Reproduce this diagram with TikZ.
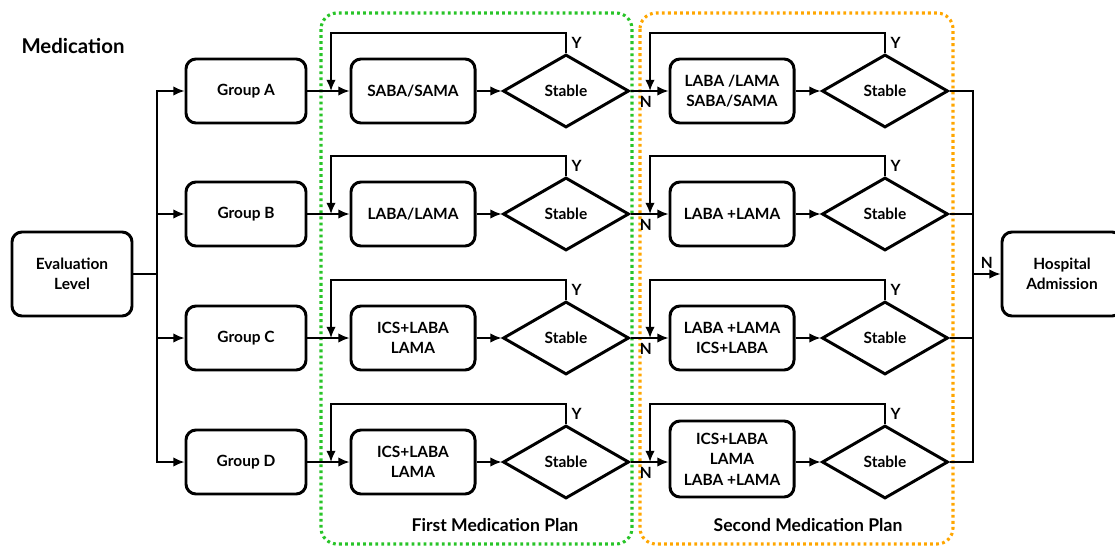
\documentclass[tikz,border=0pt]{standalone}
\usepackage{fontspec}
\setmainfont{Lato}
\usepackage{xcolor}
\usepackage{tikz}
\usetikzlibrary{shapes.geometric}
\usetikzlibrary{calc}
\usetikzlibrary{arrows.meta}

\definecolor{plangreen}{RGB}{40,196,40}
\definecolor{planorange}{RGB}{255,166,0}

\begin{document}
\begin{tikzpicture}[>={Latex[length=2.8mm,width=2.4mm]}, x=0.025cm, y=-0.025cm,
		every node/.style={font=\bfseries\fontsize{11}{14.5}\selectfont},
		box/.style={rectangle, rounded corners=2.5mm, draw=black, line width=2.1pt, minimum width=30mm, minimum height=16mm, align=center, inner sep=1mm},
		stable/.style={diamond, draw=black, line width=2.1pt, minimum width=31.5mm, minimum height=18.25mm, inner sep=0pt},
		link/.style={line width=1.4pt},
		plan/.style={rounded corners=4mm, line width=2.2pt, dash pattern=on 2pt off 2.3pt}]
		\useasboundingbox (0,0) rectangle (1115,546);

		%frames
		\draw [plan, draw=plangreen] (321,13) rectangle (632,544);
		\draw [plan, draw=planorange] (640,13) rectangle (953,544);

		%elements
		\node at (73,46) (title) [font=\bfseries\fontsize{14.5}{17}\selectfont] {Medication};
		\node at (72,274) (eval) [box, minimum height=21mm] {Evaluation\\Level};

		\node at (246,91) (grpA) [box] {Group A};
		\node at (246,214) (grpB) [box] {Group B};
		\node at (246,338) (grpC) [box] {Group C};
		\node at (246,462) (grpD) [box] {Group D};

		\node at (413,91) (firstA) [box, minimum width=31mm] {SABA/SAMA};
		\node at (413,214) (firstB) [box, minimum width=31mm] {LABA/LAMA};
		\node at (413,338) (firstC) [box, minimum width=31mm] {ICS+LABA\\LAMA};
		\node at (413,462) (firstD) [box, minimum width=31mm] {ICS+LABA\\LAMA};

		\node at (566,91) (stabA1) [stable] {Stable};
		\node at (566,214) (stabB1) [stable] {Stable};
		\node at (566,338) (stabC1) [stable] {Stable};
		\node at (566,462) (stabD1) [stable] {Stable};

		\node at (732,91) (secA) [box, minimum width=31mm] {LABA /LAMA\\SABA/SAMA};
		\node at (732,214) (secB) [box, minimum width=31mm] {LABA +LAMA};
		\node at (732,338) (secC) [box, minimum width=31mm] {LABA +LAMA\\ICS+LABA};
		\node at (732,459) (secD) [box, minimum width=31mm, minimum height=19mm] {ICS+LABA\\LAMA\\LABA +LAMA};

		\node at (885,91) (stabA2) [stable] {Stable};
		\node at (885,214) (stabB2) [stable] {Stable};
		\node at (885,338) (stabC2) [stable] {Stable};
		\node at (885,462) (stabD2) [stable] {Stable};

		\node at (1062,274) (hosp) [box, minimum height=21mm] {Hospital\\Admission};

		\node at (495,525) (plan1) [font=\bfseries\fontsize{12.5}{15}\selectfont] {First Medication Plan};
		\node at (808,525) (plan2) [font=\bfseries\fontsize{12.5}{15}\selectfont] {Second Medication Plan};

		%helpers
		\coordinate (split) at (157,274);
		\coordinate (join) at (973,274);
		\coordinate (loopA1) at (331,33);
		\coordinate (loopB1) at (331,156);
		\coordinate (loopC1) at (331,280);
		\coordinate (loopD1) at (331,404);
		\coordinate (loopA2) at (650,33);
		\coordinate (loopB2) at (650,156);
		\coordinate (loopC2) at (650,280);
		\coordinate (loopD2) at (650,404);

		%evaluation to groups
		\draw [link] (eval.east) -- (split);
		\draw [link,->] (split) |- (grpA.west);
		\draw [link,->] (split) |- (grpB.west);
		\draw [link,->] (split) |- (grpC.west);
		\draw [link,->] (split) |- (grpD.west);

		%row A
		\draw [link,->] (grpA.east) -- (firstA.west);
		\draw [link,->] (firstA.east) -- (stabA1.west);
		\draw [link,->] (stabA1.north) |- (loopA1) node [pos=0.25, right] {Y} -- (loopA1 |- firstA.west);
		\draw [link,->] (stabA1.east) -- (secA.west) node [pos=0.4, below] {N};
		\draw [link,->] (secA.east) -- (stabA2.west);
		\draw [link,->] (stabA2.north) |- (loopA2) node [pos=0.25, right] {Y} -- (loopA2 |- secA.west);
		\draw [link] (stabA2.east) -| (join);

		%row B
		\draw [link,->] (grpB.east) -- (firstB.west);
		\draw [link,->] (firstB.east) -- (stabB1.west);
		\draw [link,->] (stabB1.north) |- (loopB1) node [pos=0.25, right] {Y} -- (loopB1 |- firstB.west);
		\draw [link,->] (stabB1.east) -- (secB.west) node [pos=0.4, below] {N};
		\draw [link,->] (secB.east) -- (stabB2.west);
		\draw [link,->] (stabB2.north) |- (loopB2) node [pos=0.25, right] {Y} -- (loopB2 |- secB.west);
		\draw [link] (stabB2.east) -| (join);

		%row C
		\draw [link,->] (grpC.east) -- (firstC.west);
		\draw [link,->] (firstC.east) -- (stabC1.west);
		\draw [link,->] (stabC1.north) |- (loopC1) node [pos=0.25, right] {Y} -- (loopC1 |- firstC.west);
		\draw [link,->] (stabC1.east) -- (secC.west) node [pos=0.4, below] {N};
		\draw [link,->] (secC.east) -- (stabC2.west);
		\draw [link,->] (stabC2.north) |- (loopC2) node [pos=0.25, right] {Y} -- (loopC2 |- secC.west);
		\draw [link] (stabC2.east) -| (join);

		%row D
		\draw [link,->] (grpD.east) -- (firstD.west);
		\draw [link,->] (firstD.east) -- (stabD1.west);
		\draw [link,->] (stabD1.north) |- (loopD1) node [pos=0.25, right] {Y} -- (loopD1 |- firstD.west);
		\draw [link,->] (stabD1.east) -- (secD.west |- stabD1.east) node [pos=0.4, below] {N};
		\draw [link,->] (secD.east |- stabD2.west) -- (stabD2.west);
		\draw [link,->] (stabD2.north) |- (loopD2) node [pos=0.25, right] {Y} -- (loopD2 |- stabD1.east);
		\draw [link] (stabD2.east) -| (join);

		%admission
		\draw [link,->] (join) -- (hosp.west) node [midway, above] {N};
\end{tikzpicture}
\end{document}
